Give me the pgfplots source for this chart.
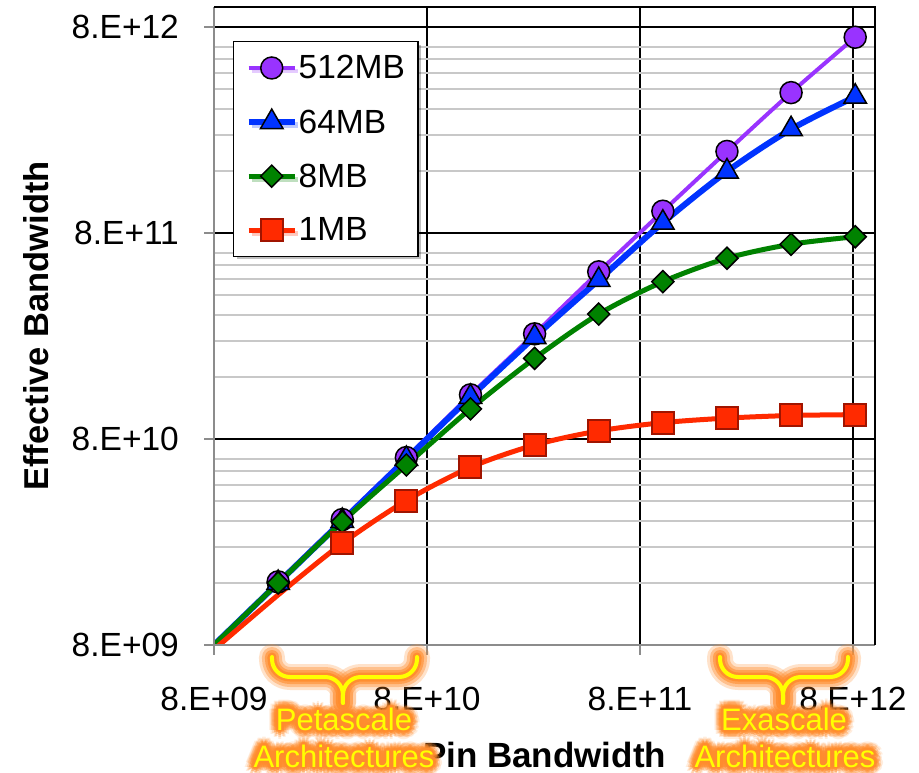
\documentclass[border=0pt]{standalone}
\usepackage{fontspec}
\setmainfont{Liberation Sans}
\usepackage{pgfplots}
\pgfplotsset{compat=1.18}
\usetikzlibrary{shadows}

\definecolor{mbpurple}{RGB}{153,51,255}
\definecolor{mbblue}{RGB}{0,51,255}
\definecolor{mbgreen}{RGB}{0,130,0}
\definecolor{mbred}{RGB}{255,42,0}
\definecolor{mbrededge}{RGB}{160,20,0}
\definecolor{glow}{RGB}{255,140,45}
\definecolor{hiyellow}{RGB}{255,255,0}
\definecolor{minorgrid}{RGB}{200,200,200}
\definecolor{axisgray}{RGB}{140,140,140}

\newcommand{\tickfont}{\fontsize{33.5}{40}\selectfont}
\newcommand{\annfont}{\fontsize{31}{36}\selectfont}

% yellow text with a soft orange halo
\newcommand{\glowtext}[2]{%
  \foreach \r/\o in {9/0.16,7/0.28,5/0.42,3/0.65,1.5/0.9}{%
    \foreach \a in {0,30,...,330}{%
      \node[anchor=base, inner sep=0pt, font=\annfont, text=glow, opacity=\o,
            xshift={\r*cos(\a)*1pt}, yshift={\r*sin(\a)*1pt}] at (#1) {#2};}}%
  \node[anchor=base, inner sep=0pt, font=\annfont, text=hiyellow] at (#1) {#2};}

% downward brace: left end, right end, tip (x in pt)
\newcommand{\glowbrace}[3]{%
  \foreach \w/\o in {26/0.25,20/0.4,14/0.6,9/0.9}{%
    \draw[glow, opacity=\o, line width=\w pt, rounded corners=18pt, line cap=round, line join=round]
      (#1pt,-12pt) -- (#1pt,-32pt) -- (#3pt,-32pt) -- (#3pt,-58pt);
    \draw[glow, opacity=\o, line width=\w pt, rounded corners=18pt, line cap=round, line join=round]
      (#2pt,-12pt) -- (#2pt,-32pt) -- (#3pt,-32pt) -- (#3pt,-58pt);}%
  \draw[hiyellow, line width=4pt, rounded corners=18pt, line cap=round, line join=round]
    (#1pt,-12pt) -- (#1pt,-32pt) -- (#3pt,-32pt) -- (#3pt,-58pt);
  \draw[hiyellow, line width=4pt, rounded corners=18pt, line cap=round, line join=round]
    (#2pt,-12pt) -- (#2pt,-32pt) -- (#3pt,-32pt) -- (#3pt,-58pt);}

\begin{document}
\begin{tikzpicture}
\begin{axis}[
  at={(0pt,0pt)}, anchor=south west,
  scale only axis, width=661pt, height=638pt,
  xmode=log, ymode=log,
  xmin=8e9, xmax=1.015e13, ymin=8e9, ymax=1.0e13,
  xtick={8e9,8e10,8e11,8e12}, xticklabels={8.E+09,8.E+10,8.E+11,8.E+12},
  ytick={8e9,8e10,8e11,8e12}, yticklabels={8.E+09,8.E+10,8.E+11,8.E+12},
  minor xtick={},
  minor ytick={1.6e10,2.4e10,3.2e10,4e10,4.8e10,5.6e10,6.4e10,
               1.6e11,2.4e11,3.2e11,4e11,4.8e11,5.6e11,6.4e11,
               1.6e12,2.4e12,3.2e12,4e12,4.8e12,5.6e12,6.4e12},
  xmajorgrids, ymajorgrids, yminorgrids,
  major grid style={black, line width=2.5pt},
  minor grid style={minorgrid, line width=2pt},
  axis line style={draw=none},
  tick align=outside, xtick pos=lower, ytick pos=left,
  major tick length=10pt, minor tick length=0pt,
  tick style={axisgray, line width=2pt},
  /pgf/number format/assume math mode=true,
  xticklabel style={font=\tickfont, anchor=north, inner sep=0pt, yshift=-32pt},
  yticklabel style={font=\tickfont, anchor=east, inner sep=0pt, xshift=-25pt},
  xlabel={Pin Bandwidth},
  ylabel={Effective Bandwidth},
  xlabel style={at={(axis description cs:0.5,-0.1928)}, anchor=base, inner sep=0pt,
                font=\bfseries\fontsize{35}{40}\selectfont},
  ylabel style={at={(axis description cs:-0.2693,0.5)}, anchor=center, inner sep=0pt,
                font=\bfseries\fontsize{34.5}{40}\selectfont},
  legend style={at={(0.0287,0.947)}, anchor=north west,
                draw=black, line width=1.5pt, fill=white,
                font=\fontsize{33.5}{40}\selectfont,
                inner xsep=12pt, inner ysep=13pt, row sep=27.2pt,
                nodes={inner sep=1pt},
                drop shadow={shadow xshift=3pt, shadow yshift=-3pt, fill=black, opacity=0.25},
                /tikz/every even column/.append style={column sep=3pt}},
  legend cell align=left,
  legend image code/.code={\draw[mark repeat=2,mark phase=2] plot coordinates {(0pt,0pt) (23pt,0pt) (46pt,0pt)};},
]
\addplot[mbpurple, line width=4pt, smooth, mark=*, mark size=11pt, mark phase=2, mark repeat=1,
         mark options={fill=mbpurple, draw=black, line width=1.5pt}]
  coordinates {(8e9,8e9) (1.6e10,1.62e10) (3.2e10,3.25e10) (6.4e10,6.5e10) (1.28e11,1.31e11)
               (2.56e11,2.59e11) (5.12e11,5.18e11) (1.024e12,1.02e12) (2.048e12,1.99e12)
               (4.096e12,3.84e12) (8.192e12,7.13e12)};
\addlegendentry{512MB}
\addplot[mbblue, line width=6pt, smooth, mark=triangle*, mark size=13pt, mark phase=2, mark repeat=1,
         mark options={fill=mbblue, draw=black, line width=1.5pt}]
  coordinates {(8e9,8e9) (1.6e10,1.6e10) (3.2e10,3.2e10) (6.4e10,6.4e10) (1.28e11,1.28e11)
               (2.56e11,2.5e11) (5.12e11,4.73e11) (1.024e12,8.97e11) (2.048e12,1.59e12)
               (4.096e12,2.55e12) (8.192e12,3.67e12)};
\addlegendentry{64MB}
\addplot[mbgreen, line width=5pt, smooth, mark=square*, mark size=7.8pt, mark phase=2, mark repeat=1,
         mark options={fill=mbgreen, draw=black, line width=1.5pt, rotate=45}]
  coordinates {(8e9,8e9) (1.6e10,1.6e10) (3.2e10,3.17e10) (6.4e10,5.98e10) (1.28e11,1.12e11)
               (2.56e11,1.97e11) (5.12e11,3.23e11) (1.024e12,4.64e11) (2.048e12,6.03e11)
               (4.096e12,7.05e11) (8.192e12,7.67e11)};
\addlegendentry{8MB}
\addplot[mbred, line width=5pt, smooth, mark=square*, mark size=11pt, mark phase=2, mark repeat=1,
         mark options={fill=mbred, draw=mbrededge, line width=2pt}]
  coordinates {(8e9,7.6e9) (1.6e10,1.40e10) (3.2e10,2.49e10) (6.4e10,4.02e10) (1.28e11,5.83e10)
               (2.56e11,7.48e10) (5.12e11,8.75e10) (1.024e12,9.6e10) (2.048e12,1.01e11)
               (4.096e12,1.04e11) (8.192e12,1.05e11)};
\addlegendentry{1MB}
\end{axis}
% plot-area border: grey axes at left and bottom, black at top and right
\draw[axisgray, line width=2.5pt] (0pt,638pt) -- (0pt,0pt) -- (661pt,0pt);
\draw[black, line width=2.5pt] (0pt,638pt) -- (661pt,638pt) -- (661pt,0pt);
% architecture ranges
\glowbrace{58}{203}{129}
\glowbrace{506}{634}{569}
\glowtext{130pt,-85pt}{Petascale}
\glowtext{130pt,-122pt}{Architectures}
\glowtext{570pt,-85pt}{Exascale}
\glowtext{571pt,-122pt}{Architectures}
\pgfresetboundingbox
\path[use as bounding box] (-214pt,-127pt) rectangle (705pt,645pt);
\end{tikzpicture}
\end{document}
